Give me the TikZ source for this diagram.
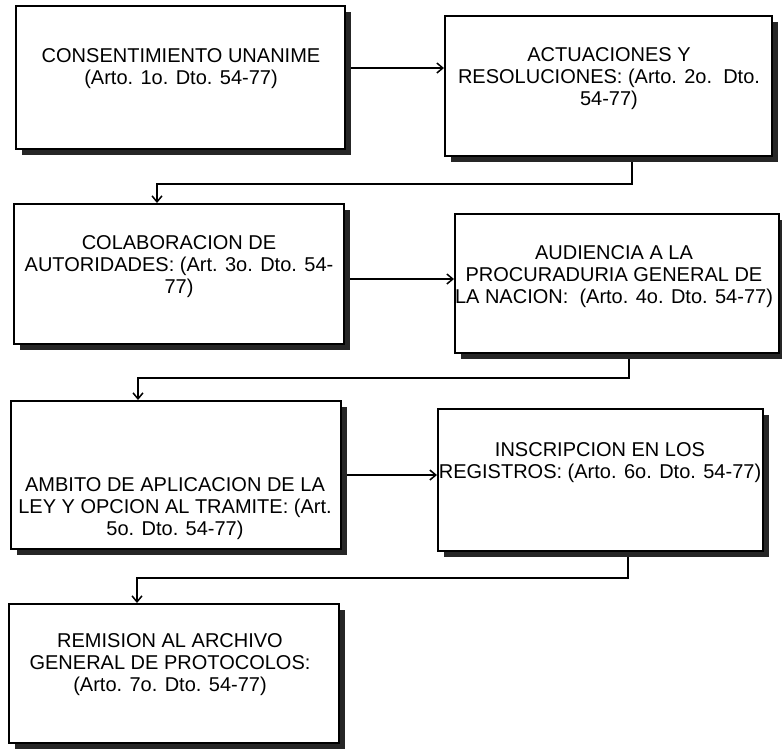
\documentclass[tikz,border=0pt]{standalone}
\usepackage{fontspec}
\setmainfont{Liberation Sans}
\usetikzlibrary{arrows.meta,shadows,backgrounds}
\begin{document}
\begin{tikzpicture}[x=1pt,y=-1pt,
  box/.style={draw=black, line width=1.8pt, fill=white, inner sep=0pt, anchor=north west,
     drop shadow={shadow xshift=6pt, shadow yshift=-6pt, fill=black!85, opacity=1}},
  lbl/.style={anchor=north, align=center, inner sep=0pt, font=\fontsize{20}{22}\selectfont},
  conn/.style={line width=2.2pt, -{Straight Barb[length=6pt,width=10pt,line width=1.5pt]}}
]
\useasboundingbox (0,0) rectangle (782,748);

\node[box, minimum width=329pt, minimum height=143pt] (b1) at (15,5) {};
\node[box, minimum width=327pt, minimum height=140pt] (b2) at (444,15) {};
\node[box, minimum width=330pt, minimum height=140pt] (b3) at (13,203) {};
\node[box, minimum width=324pt, minimum height=139pt] (b4) at (454,213) {};
\node[box, minimum width=330pt, minimum height=148pt] (b5) at (10,400) {};
\node[box, minimum width=325pt, minimum height=142pt] (b6) at (437,408) {};
\node[box, minimum width=330pt, minimum height=139pt] (b7) at (8,603) {};

\node[lbl] (t1) at (181,48) {CONSENTIMIENTO UNANIME\\(Arto. 1o. Dto. 54-77)};
\node[lbl] (t2) at (609,47) {ACTUACIONES Y\\RESOLUCIONES: (Arto. 2o.\ \ Dto.\\54-77)};
\node[lbl] (t3) at (179,235) {COLABORACION DE\\AUTORIDADES: (Art. 3o. Dto. 54-\\77)};
\node[lbl] (t4) at (614,245) {AUDIENCIA A LA\\PROCURADURIA GENERAL DE\\LA NACION:\ \ (Arto. 4o. Dto. 54-77)};
\node[lbl] (t5) at (175,477) {AMBITO DE APLICACION DE LA\\LEY Y OPCION AL TRAMITE: (Art.\\5o. Dto. 54-77)};
\node[lbl] (t6) at (600,442) {INSCRIPCION EN LOS\\REGISTROS: (Arto. 6o. Dto. 54-77)};
\node[lbl] (t7) at (170,633) {REMISION AL ARCHIVO\\GENERAL DE PROTOCOLOS:\\(Arto. 7o. Dto. 54-77)};

\begin{scope}[on background layer]
\draw[conn] (b1.east |- 0,68) -- (b2.west |- 0,68);
\draw[conn] (b2.south -| 632,0) |- (157,184) -- (b3.north -| 157,0);
\draw[conn] (b3.east |- 0,279) -- (b4.west |- 0,279);
\draw[conn] (b4.south -| 629,0) |- (138,378) -- (b5.north -| 138,0);
\draw[conn] (b5.east |- 0,475) -- (b6.west |- 0,475);
\draw[conn] (b6.south -| 628,0) |- (137,578) -- (b7.north -| 137,0);
\end{scope}
\end{tikzpicture}
\end{document}
